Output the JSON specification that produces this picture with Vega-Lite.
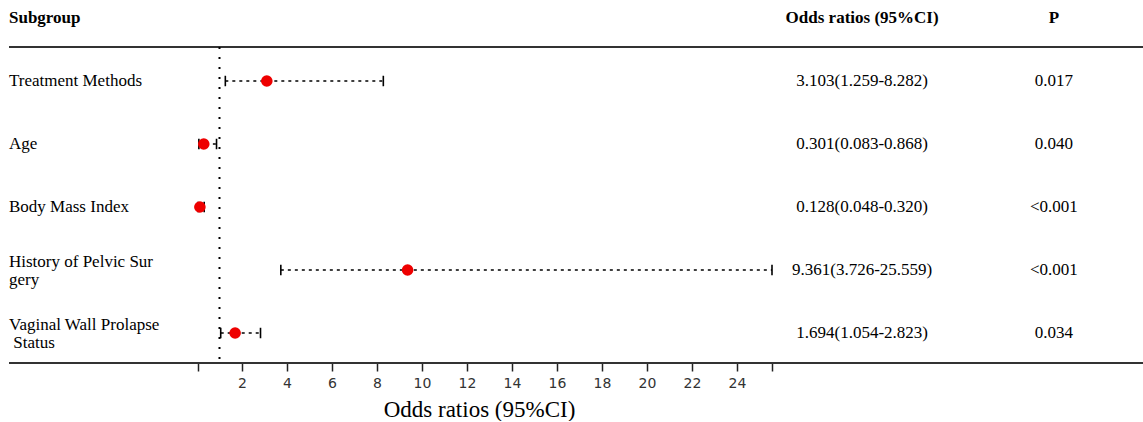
{
  "$schema": "https://vega.github.io/schema/vega-lite/v6.json",
  "padding": {"left": 8, "top": 0, "right": 0, "bottom": 0},
  "background": "white",
  "bounds": "flush",
  "config": {"view": {"stroke": null}, "font": "Liberation Serif"},
  "datasets": {
    "rows": [
      {"row": 1, "label": "Treatment Methods", "or": 3.103, "lo": 1.259, "hi": 8.282, "ortext": "3.103(1.259-8.282)", "p": "0.017"},
      {"row": 2, "label": "Age", "or": 0.301, "lo": 0.083, "hi": 0.868, "ortext": "0.301(0.083-0.868)", "p": "0.040"},
      {"row": 3, "label": "Body Mass Index", "or": 0.128, "lo": 0.048, "hi": 0.320, "ortext": "0.128(0.048-0.320)", "p": "<0.001"},
      {"row": 4, "label": "History of Pelvic Sur\ngery", "or": 9.361, "lo": 3.726, "hi": 25.559, "ortext": "9.361(3.726-25.559)", "p": "<0.001"},
      {"row": 5, "label": "Vaginal Wall Prolapse\n\u200b Status", "or": 1.694, "lo": 1.054, "hi": 2.823, "ortext": "1.694(1.054-2.823)", "p": "0.034"}
    ],
    "header": [
      {"row": 0, "col": "Subgroup", "text": "Subgroup"},
      {"row": 0, "col": "OR", "text": "Odds ratios (95%CI)"},
      {"row": 0, "col": "P", "text": "P"}
    ]
  },
  "spacing": 0,
  "resolve": {"scale": {"x": "independent", "y": "shared"}},
  "hconcat": [
    {
      "width": 188,
      "height": 363,
      "layer": [
        {
          "data": {"name": "header"},
          "transform": [{"filter": "datum.col === 'Subgroup'"}],
          "mark": {"type": "text", "align": "left", "baseline": "middle", "fontWeight": "bold", "fontSize": 17, "font": "Liberation Serif", "color": "black"},
          "encoding": {
            "x": {"value": 0},
            "y": {"field": "row", "type": "quantitative", "scale": {"domain": [-0.2857, 5.476], "reverse": true, "zero": false, "nice": false}, "axis": null},
            "text": {"field": "text"}
          }
        },
        {
          "data": {"name": "rows"},
          "transform": [{"filter": "indexof(datum.label, '\\n') < 0"}],
          "mark": {"type": "text", "align": "left", "baseline": "middle", "fontSize": 17, "font": "Liberation Serif", "color": "black"},
          "encoding": {
            "x": {"value": 0},
            "y": {"field": "row", "type": "quantitative"},
            "text": {"field": "label"}
          }
        },
        {
          "data": {"name": "rows"},
          "transform": [{"filter": "indexof(datum.label, '\\n') >= 0"}],
          "mark": {"type": "text", "align": "left", "baseline": "middle", "fontSize": 17, "font": "Liberation Serif", "color": "black", "lineBreak": "\n", "lineHeight": 18, "dy": -8},
          "encoding": {
            "x": {"value": 0},
            "y": {"field": "row", "type": "quantitative"},
            "text": {"field": "label"}
          }
        },
        {
          "data": {"values": [{}]},
          "mark": {"type": "rule", "strokeWidth": 2, "color": "#333"},
          "encoding": {"y": {"datum": 0.46, "type": "quantitative"}}
        },
        {
          "data": {"values": [{}]},
          "mark": {"type": "rule", "strokeWidth": 2, "color": "#333"},
          "encoding": {"y": {"datum": 5.476, "type": "quantitative"}}
        }
      ]
    },
    {
      "width": 575,
      "height": 363,
      "layer": [
        {
          "data": {"values": [{}]},
          "mark": {"type": "rule", "strokeWidth": 2, "color": "#333"},
          "encoding": {"y": {"datum": 0.46, "type": "quantitative", "scale": {"domain": [-0.2857, 5.476], "reverse": true, "zero": false, "nice": false}, "axis": null}}
        },
        {
          "data": {"values": [{}]},
          "mark": {"type": "rule", "strokeWidth": 2, "color": "#333"},
          "encoding": {"y": {"datum": 5.476, "type": "quantitative"}}
        },
        {
          "data": {"values": [{}]},
          "mark": {"type": "rule", "strokeWidth": 2, "color": "black", "strokeDash": [2, 8]},
          "encoding": {
            "x": {"datum": 1, "type": "quantitative"},
            "y": {"datum": 0.46, "type": "quantitative"},
            "y2": {"datum": 5.476}
          }
        },
        {
          "data": {"name": "rows"},
          "mark": {"type": "rule", "strokeWidth": 1.3, "color": "black", "strokeDash": [3, 4]},
          "encoding": {
            "x": {
              "field": "lo", "type": "quantitative",
              "scale": {"domain": [0, 25.559], "nice": false, "zero": false},
              "axis": {
                "values": [0.048, 2, 4, 6, 8, 10, 12, 14, 16, 18, 20, 22, 24, 25.559],
                "labelExpr": "datum.value < 1 || datum.value > 25 ? '' : datum.label",
                "domain": false, "grid": false,
                "tickSize": 8, "tickWidth": 1.5, "tickColor": "#222",
                "labelFont": "DejaVu Sans", "labelFontSize": 14, "labelColor": "#333", "labelPadding": 5,
                "title": "Odds ratios (95%CI)", "titleFont": "Liberation Serif", "titleFontSize": 23,
                "titleFontWeight": "normal", "titleColor": "black", "titlePadding": 8,
                "titleX": 282, "titleAlign": "center"
              }
            },
            "x2": {"field": "hi"},
            "y": {"field": "row", "type": "quantitative"}
          }
        },
        {
          "data": {"name": "rows"},
          "mark": {"type": "point", "shape": "M0,-1L0,1", "size": 110, "filled": false, "stroke": "black", "strokeWidth": 1.6, "opacity": 1},
          "encoding": {
            "x": {"field": "lo", "type": "quantitative"},
            "y": {"field": "row", "type": "quantitative"}
          }
        },
        {
          "data": {"name": "rows"},
          "mark": {"type": "point", "shape": "M0,-1L0,1", "size": 110, "filled": false, "stroke": "black", "strokeWidth": 1.6, "opacity": 1},
          "encoding": {
            "x": {"field": "hi", "type": "quantitative"},
            "y": {"field": "row", "type": "quantitative"}
          }
        },
        {
          "data": {"name": "rows"},
          "mark": {"type": "circle", "size": 135, "color": "#ee0000", "opacity": 1},
          "encoding": {
            "x": {"field": "or", "type": "quantitative"},
            "y": {"field": "row", "type": "quantitative"}
          }
        }
      ]
    },
    {
      "width": 372,
      "height": 363,
      "layer": [
        {
          "data": {"values": [{}]},
          "mark": {"type": "rule", "strokeWidth": 2, "color": "#333"},
          "encoding": {"y": {"datum": 0.46, "type": "quantitative", "scale": {"domain": [-0.2857, 5.476], "reverse": true, "zero": false, "nice": false}, "axis": null}}
        },
        {
          "data": {"values": [{}]},
          "mark": {"type": "rule", "strokeWidth": 2, "color": "#333"},
          "encoding": {"y": {"datum": 5.476, "type": "quantitative"}}
        },
        {
          "data": {"name": "header"},
          "transform": [{"filter": "datum.col !== 'Subgroup'"}],
          "mark": {"type": "text", "align": "center", "baseline": "middle", "fontWeight": "bold", "fontSize": 17, "font": "Liberation Serif", "color": "black"},
          "encoding": {
            "x": {"field": "col", "type": "nominal", "scale": {"type": "point", "domain": ["OR", "P"], "padding": 0.47}, "axis": null},
            "y": {"field": "row", "type": "quantitative"},
            "text": {"field": "text"}
          }
        },
        {
          "data": {"name": "rows"},
          "mark": {"type": "text", "align": "center", "baseline": "middle", "fontSize": 17, "font": "Liberation Serif", "color": "black"},
          "encoding": {
            "x": {"datum": "OR", "type": "nominal"},
            "y": {"field": "row", "type": "quantitative"},
            "text": {"field": "ortext"}
          }
        },
        {
          "data": {"name": "rows"},
          "mark": {"type": "text", "align": "center", "baseline": "middle", "fontSize": 17, "font": "Liberation Serif", "color": "black"},
          "encoding": {
            "x": {"datum": "P", "type": "nominal"},
            "y": {"field": "row", "type": "quantitative"},
            "text": {"field": "p"}
          }
        }
      ]
    }
  ]
}
